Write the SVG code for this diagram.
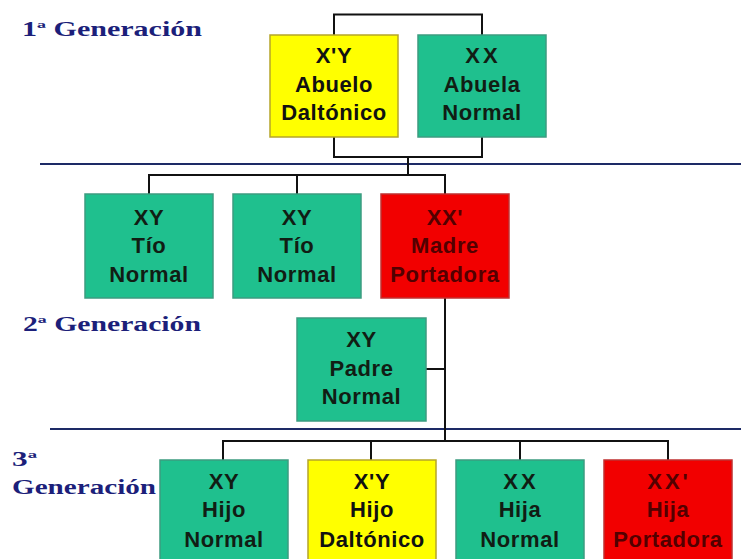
<svg xmlns="http://www.w3.org/2000/svg" width="741" height="559" viewBox="0 0 741 559">
<style>
  .gen { font-family: "Liberation Serif", "DejaVu Serif", serif; font-weight: bold; font-size: 20px; fill: #1c1f7a; }
  .box { stroke-width: 1.5; }
  .teal { fill: #1fc08e; stroke: #3d9c80; }
  .yellow { fill: #ffff00; stroke: #b5a52a; }
  .red { fill: #f20000; stroke: #c03030; }
  .lbl { font-family: "Liberation Sans", Arial, sans-serif; font-weight: bold; font-size: 22px; letter-spacing: 0.6px; text-anchor: middle; fill: #111d14; }
  .lbl.dark { fill: #111111; }
  .lbl.onred { fill: #520000; }
  .wide { letter-spacing: 3px; }
  .conn { fill: none; stroke: #111111; stroke-width: 2; }
  .sep { fill: none; stroke: #1d2a66; stroke-width: 2; }
</style>
<rect width="741" height="559" fill="#ffffff"/>

<g id="labels">
  <text class="gen" x="22" y="36" textLength="180" lengthAdjust="spacingAndGlyphs">1ª Generación</text>
  <text class="gen" x="23" y="331" textLength="178" lengthAdjust="spacingAndGlyphs">2ª Generación</text>
  <text class="gen" x="12" y="466" font-size="22" textLength="25" lengthAdjust="spacingAndGlyphs">3ª</text>
  <text class="gen" x="12" y="494" textLength="144" lengthAdjust="spacingAndGlyphs">Generación</text>
</g>

<g id="separators">
  <path class="sep" d="M40,164 H741"/>
  <path class="sep" d="M50,429 H741"/>
</g>

<g id="connectors">
  <path class="conn" d="M334,35 V14.5 H482 V35"/>
  <path class="conn" d="M334,137 V157 H482 V137"/>
  <path class="conn" d="M408,157 V175"/>
  <path class="conn" d="M149,194 V175 H445 V194"/>
  <path class="conn" d="M297,175 V194"/>
  <path class="conn" d="M445,298 V441"/>
  <path class="conn" d="M426,369 H445"/>
  <path class="conn" d="M223,460 V441 H668 V460"/>
  <path class="conn" d="M371,441 V460"/>
  <path class="conn" d="M520,441 V460"/>
</g>

<g id="abuelo">
  <rect class="box yellow" x="270" y="35" width="128" height="102"/>
  <text class="lbl dark" x="334" y="63">X'Y</text>
  <text class="lbl dark" x="334" y="92">Abuelo</text>
  <text class="lbl dark" x="334" y="120">Daltónico</text>
</g>
<g id="abuela">
  <rect class="box teal" x="418" y="35" width="128" height="102"/>
  <text class="lbl wide" x="483" y="63">XX</text>
  <text class="lbl" x="482" y="92">Abuela</text>
  <text class="lbl" x="482" y="120">Normal</text>
</g>

<g id="tio1">
  <rect class="box teal" x="85" y="194" width="128" height="104"/>
  <text class="lbl" x="149" y="225">XY</text>
  <text class="lbl" x="149" y="253">Tío</text>
  <text class="lbl" x="149" y="282">Normal</text>
</g>
<g id="tio2">
  <rect class="box teal" x="233" y="194" width="128" height="104"/>
  <text class="lbl" x="297" y="225">XY</text>
  <text class="lbl" x="297" y="253">Tío</text>
  <text class="lbl" x="297" y="282">Normal</text>
</g>
<g id="madre">
  <rect class="box red" x="381" y="194" width="128" height="104"/>
  <text class="lbl onred" x="445" y="225">XX'</text>
  <text class="lbl onred" x="445" y="253">Madre</text>
  <text class="lbl onred" x="445" y="282">Portadora</text>
</g>

<g id="padre">
  <rect class="box teal" x="297" y="318" width="129" height="103"/>
  <text class="lbl" x="361.5" y="347">XY</text>
  <text class="lbl" x="361.5" y="376">Padre</text>
  <text class="lbl" x="361.5" y="404">Normal</text>
</g>

<g id="hijo-normal">
  <rect class="box teal" x="160" y="460" width="128" height="104"/>
  <text class="lbl" x="224" y="489">XY</text>
  <text class="lbl" x="224" y="517">Hijo</text>
  <text class="lbl" x="224" y="547">Normal</text>
</g>
<g id="hijo-daltonico">
  <rect class="box yellow" x="308" y="460" width="128" height="104"/>
  <text class="lbl dark" x="372" y="489">X'Y</text>
  <text class="lbl dark" x="372" y="517">Hijo</text>
  <text class="lbl dark" x="372" y="547">Daltónico</text>
</g>
<g id="hija-normal">
  <rect class="box teal" x="456" y="460" width="128" height="104"/>
  <text class="lbl wide" x="521" y="489">XX</text>
  <text class="lbl" x="520" y="517">Hija</text>
  <text class="lbl" x="520" y="547">Normal</text>
</g>
<g id="hija-portadora">
  <rect class="box red" x="604" y="460" width="128" height="104"/>
  <text class="lbl onred wide" x="669" y="489">XX'</text>
  <text class="lbl onred" x="668" y="517">Hija</text>
  <text class="lbl onred" x="668" y="547">Portadora</text>
</g>
</svg>
